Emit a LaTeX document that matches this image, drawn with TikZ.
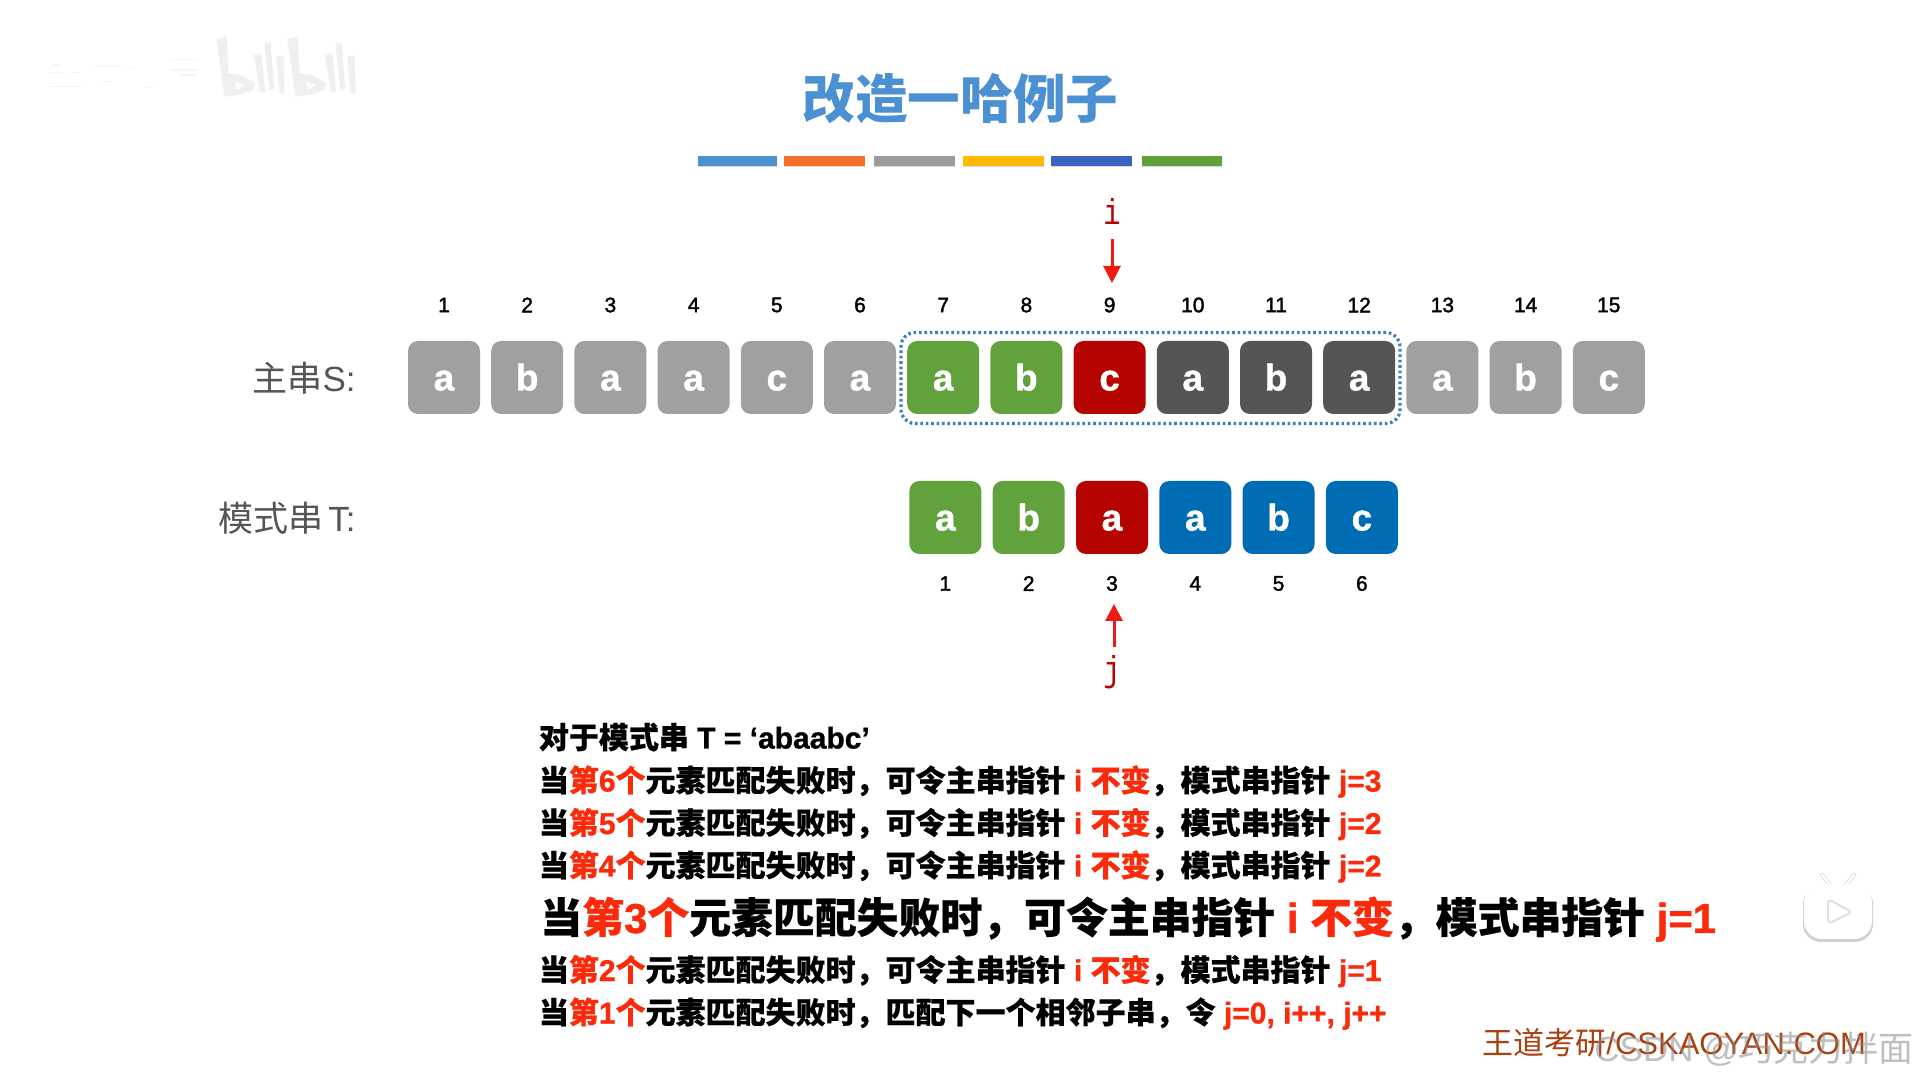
\documentclass[tikz,border=0pt]{standalone}
\usepackage{fontspec}
\setmainfont{Liberation Sans}[BoldFeatures={FakeBold=1}]
\newfontfamily\cjk{Noto Sans CJK SC}
\newfontfamily\cjkm[FakeBold=0.6]{Noto Sans CJK SC}
\newfontfamily\midsans[FakeBold=1.8]{Liberation Sans}
\newfontfamily\courierish[FakeStretch=0.8]{Liberation Mono}
\usetikzlibrary{arrows.meta}
\definecolor{tred}{HTML}{FA2A0A}
\definecolor{ptr}{HTML}{EA1C14}
\definecolor{cgray}{HTML}{A0A0A0}
\definecolor{cgreen}{HTML}{62A23C}
\definecolor{cred}{HTML}{B60400}
\definecolor{cdark}{HTML}{555555}
\definecolor{cblue}{HTML}{006CB4}
\definecolor{titleblue}{HTML}{4A90D2}
\definecolor{dotblue}{HTML}{3D7DBE}
\definecolor{brown}{HTML}{A8400F}
\definecolor{wmark}{HTML}{EFEFEF}
\newcommand\fsz[1]{\fontsize{#1}{#1}\selectfont}
\newcommand\cb[1]{{\cjkm #1}}
\newcommand\rd[1]{\textcolor{tred}{#1}}
\newcommand\failline[2]{\cb{当}\rd{\cb{第}#1\cb{个}}\cb{元素匹配失败时，可令主串指针} \rd{i \cb{不变}}\cb{，模式串指针} \rd{j=#2}}
\tikzset{
  cell/.style={rectangle,rounded corners=5pt,minimum width=36pt,minimum height=36.5pt,inner sep=0pt,text height=13pt,text depth=0pt,text=white,font=\fsz{18.5}\bfseries},
  gbox/.style={cell,fill=cgray}, greenbox/.style={cell,fill=cgreen}, redbox/.style={cell,fill=cred},
  darkbox/.style={cell,fill=cdark}, bluebox/.style={cell,fill=cblue},
  idx/.style={inner sep=0pt,font=\midsans\fsz{10.5},text=black},
  rowlabel/.style={anchor=base east,inner sep=0pt,text=cdark,font=\fsz{17.5}},
  ruleline/.style={anchor=base west,inner sep=0pt,font=\fsz{15}\bfseries},
  ptrlabel/.style={inner sep=0pt,text=cred,font=\courierish\fsz{18}},
  ptrarrow/.style={draw=ptr,line width=1.5pt,-{Triangle[length=8.5pt,width=8.5pt]}},
  windowbox/.style={rectangle,draw=dotblue,rounded corners=7pt,line width=1.6pt,dash pattern=on 1.3pt off 1.4pt,minimum width=249.5pt,minimum height=45.5pt,inner sep=0pt},
}
\begin{document}
\begin{tikzpicture}[x=0.5pt,y=-0.5pt]
\useasboundingbox[fill=white] (0,0) rectangle (1919,1079);

% bilibili watermark
\begin{scope}[x=0.5pt/2.45,y=-0.5pt/3]
  \foreach \dx in {0,174}{
    \begin{scope}[shift={(\dx,0)}]
    \fill[wmark] (530,120)--(555,108)--(560,220)--(590,225)--(625,250)--(620,270)--(585,285)--(550,290)--cycle;
    \fill[white] (575,245)--(600,255)--(580,270)--cycle;
    \fill[wmark] (622,165)--(640,160)--(650,275)--(637,275)--cycle;
    \fill[wmark] (648,130)--(663,127)--(672,268)--(660,270)--cycle;
    \fill[wmark] (677,170)--(695,168)--(697,280)--(685,280)--cycle;
    \end{scope}
  }
  \foreach \xa/\xb/\yy in {125/150/217,168/195/217,120/205/260,235/295/200,250/275/245,305/330/205,420/485/178,420/485/210,360/375/262,130/150/195,440/480/225}
    \draw[draw=wmark,line width=0.8pt,opacity=.6] (\xa,\yy)--(\xb,\yy);
\end{scope}

% title and colour bars
\node[inner sep=0pt,text=titleblue,font=\cjk\bfseries\fsz{26.3}] (title) at (960.5,99) {改造一哈例子};
\foreach \xa/\xb/\c in {698.3/777/4A90D2,784/865/F4702A,873.5/954.7/9B9B9B,963/1044/FFB900,1051/1132/3A63C0,1142/1222/62A03C}{
  \definecolor{barc}{HTML}{\c}
  \fill[black!15] (\xa,158) rectangle (\xb,167.5);
  \fill[barc] (\xa,155.7) rectangle (\xb,165.7);
}

% main string
\node[rowlabel] (labS) at (356,392) {{\cjk 主串}S:};
\foreach \k/\ch/\st in {1/a/gbox,2/b/gbox,3/a/gbox,4/a/gbox,5/c/gbox,6/a/gbox,7/a/greenbox,8/b/greenbox,9/c/redbox,10/a/darkbox,11/b/darkbox,12/a/darkbox,13/a/gbox,14/b/gbox,15/c/gbox}{
  \node[\st] (S\k) at ({943.2+(\k-7)*83.2},377.5) {\ch};
  \node[idx] (SN\k) at ({943.2+(\k-7)*83.2},305) {\k};
}
\node[windowbox] (win) at (1150.5,378) {};

% pattern string
\node[rowlabel] (labT) at (356,532) {{\cjk 模式串}\kern2.5pt T:};
\foreach \k/\ch/\st in {1/a/greenbox,2/b/greenbox,3/a/redbox,4/a/bluebox,5/b/bluebox,6/c/bluebox}{
  \node[\st] (T\k) at ({945.4+(\k-1)*83.3},517.5) {\ch};
  \node[idx] (TN\k) at ({945.4+(\k-1)*83.3},583.5) {\k};
}

% pointers
\node[ptrlabel] (ptri) at (1112,211) {i};
\coordinate (ptriFrom) at (1112,239);
\coordinate (ptriTo) at (1112,283);
\draw[ptrarrow] (ptriFrom) -- (ptriTo);
\node[ptrlabel] (ptrj) at (1112,672) {j};
\coordinate (ptrjFrom) at (1114,647);
\coordinate (ptrjTo) at (1114,604);
\draw[ptrarrow] (ptrjFrom) -- (ptrjTo);

% explanation
\node[ruleline] (l0) at (538.5,748.5) {\cb{对于模式串} T = ‘abaabc’};
\node[ruleline] (l1) at (538.5,791.5) {\failline{6}{3}};
\node[ruleline] (l2) at (538.5,834) {\failline{5}{2}};
\node[ruleline] (l3) at (538.5,876.5) {\failline{4}{2}};
\node[ruleline,font=\fsz{20.93}\bfseries] (l4) at (540,933) {\failline{3}{1}};
\node[ruleline] (l5) at (538.5,981) {\failline{2}{1}};
\node[ruleline] (l6) at (538.5,1023.5) {\cb{当}\rd{\cb{第}1\cb{个}}\cb{元素匹配失败时，匹配下一个相邻子串，令} \rd{j=0, i++, j++}};

% footer
\node[anchor=base west,inner sep=0pt,text=brown,font=\fsz{15.5}] (brand) at (1482,1054.5) {{\cjk 王道考研}/CSKAOYAN.COM};
\node[anchor=base west,inner sep=0pt,text=black!45,opacity=.55,font=\fsz{17.5}] (csdn) at (1594,1061) {CSDN @{\cjk 巧克力拌面}};

% play icon
\begin{scope}[line join=round]
  \fill[black!18,rounded corners=9pt] (1803,886) rectangle (1873,942);
  \draw[black!16,line width=2pt,line cap=round] (1822,875)--(1830,885) (1854,875)--(1846,885);
  \draw[white,line width=1.2pt,line cap=round] (1822,875)--(1830,885) (1854,875)--(1846,885);
  \fill[white,rounded corners=9pt] (1804,884) rectangle (1872,939);
  \draw[black!12,line width=1pt,rounded corners=2pt,fill=white] (1828,899)--(1852,912)--(1828,924)--cycle;
\end{scope}
\end{tikzpicture}
\end{document}
